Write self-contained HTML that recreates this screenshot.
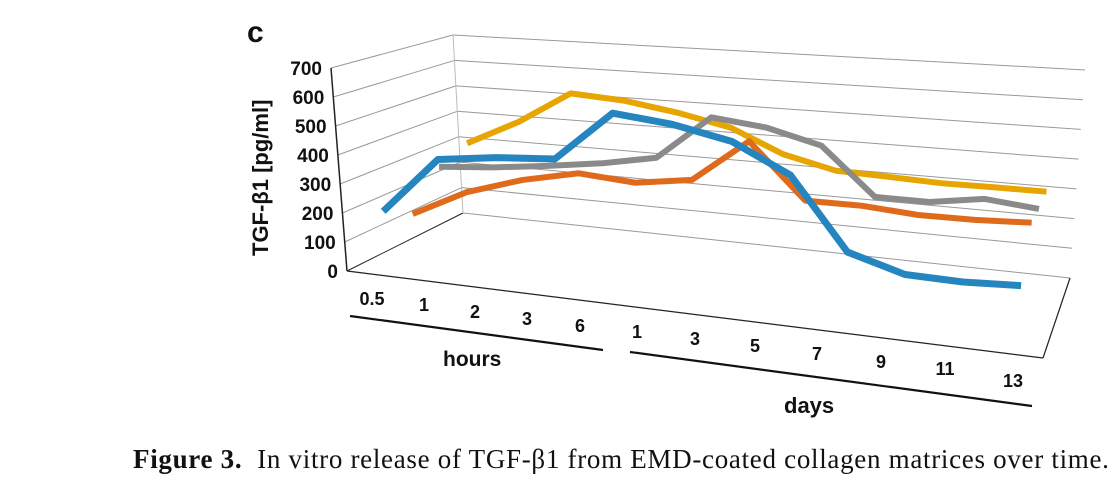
<!DOCTYPE html>
<html><head><meta charset="utf-8"><style>
body{margin:0;background:#fff;width:1120px;height:483px;overflow:hidden}
svg{position:absolute;left:0;top:0}
text{font-family:"Liberation Sans",sans-serif;font-weight:bold;fill:#111}
.cap{position:absolute;left:133px;top:444px;font-family:"Liberation Serif",serif;font-size:27px;letter-spacing:0.7px;color:#111;white-space:nowrap}
</style></head><body>
<svg id="chart" width="1120" height="483">
<text x="247" y="42" font-size="30">c</text>
<text transform="translate(268,256) rotate(-90)" font-size="22">TGF-β1 [pg/ml]</text>
<g id="grid"></g><g id="series"></g><g id="labels"></g>
<line x1="350" y1="316" x2="603" y2="350" stroke="#111" stroke-width="2.2"/>
<line x1="630" y1="352" x2="1032" y2="406" stroke="#111" stroke-width="2.2"/>
<text x="443" y="366" font-size="21">hours</text>
<text x="784" y="413" font-size="22">days</text>
</svg>
<div class="cap"><b>Figure 3.</b>&nbsp; In vitro release of TGF-β1 from EMD-coated collagen matrices over time.</div>
<script>
const categories=["0.5","1","2","3","6","1","3","5","7","9","11","13"];
const yTicks=[0,100,200,300,400,500,600,700];
const blueVals=[200,404,434,452,633,617,581,488,249,196,194,205];
const orangeVals=[144,245,310,355,343,374,529,344,347,336,340,351];
const grayVals=[269,287,312,341,380,542,523,477,317,318,347,331];
const yellowVals=[311,410,533,521,492,453,373,331,326,320,322,323];
const labelPos=[[372,298],[424,304],[475,311],[527,318],[580,325],[637,331],[695,338],[755,345],[817,353],[881,361],[945,368],[1013,380]];
const NS="http://www.w3.org/2000/svg";
const F0=[347,271],F1=[1043,358],T0=[331,68],T1=[1058,150];
const B0=[463,213],B1=[1070,278],U0=[453,35],U1=[1085,70];
const L=(a,b,t)=>[a[0]+(b[0]-a[0])*t,a[1]+(b[1]-a[1])*t];
function P(i,v,d){const t=(i+0.5)/categories.length;const s=v/700;
 const f=L(L(F0,F1,t),L(T0,T1,t),s),b=L(L(B0,B1,t),L(U0,U1,t),s);return L(f,b,d);}
function line(g,x1,y1,x2,y2,c,w,name){const l=document.createElementNS(NS,'line');
 l.setAttribute('x1',x1);l.setAttribute('y1',y1);l.setAttribute('x2',x2);l.setAttribute('y2',y2);
 l.setAttribute('stroke',c);l.setAttribute('stroke-width',w);
 
 
 g.appendChild(l);}
const grid=document.getElementById('grid'),lab=document.getElementById('labels');
yTicks.forEach(v=>{const s=v/700;const f=L(F0,T0,s),b=L(B0,U0,s),r=L(B1,U1,s);
 line(grid,f[0],f[1],b[0],b[1],v===0?'#222':'#999',1,'gridline-left');
 line(grid,b[0],b[1],r[0],r[1],'#999',1,'gridline-back');
 const t=document.createElementNS(NS,'text');t.setAttribute('x',f[0]-9);t.setAttribute('y',f[1]+7);
 t.setAttribute('text-anchor','end');t.setAttribute('font-size','19');t.textContent=v;
 
 
 lab.appendChild(t);});
line(grid,T0[0],T0[1],F0[0],F0[1],'#222',1.5,'y-axis-line');
line(grid,F0[0],F0[1],F1[0],F1[1],'#222',1.2,'floor-front-edge');
line(grid,F1[0],F1[1],B1[0],B1[1],'#222',1.2,'floor-right-edge');
line(grid,B0[0],B0[1],U0[0],U0[1],'#bbb',1,'back-left-edge');
categories.forEach((c,i)=>{const t=document.createElementNS(NS,'text');
 t.setAttribute('x',labelPos[i][0]);t.setAttribute('y',labelPos[i][1]+7);t.setAttribute('text-anchor','middle');
 t.setAttribute('font-size','18');t.textContent=c;
 
 
 lab.appendChild(t);});
const sg=document.getElementById('series');
function series(vals,d,col,w,name){const p=document.createElementNS(NS,'polyline');
 p.setAttribute('points',vals.map((v,i)=>P(i,v,d).join(',')).join(' '));
 p.setAttribute('fill','none');p.setAttribute('stroke',col);p.setAttribute('stroke-width',w);
 p.setAttribute('stroke-linejoin','round');
 
 
 sg.appendChild(p);}
series(yellowVals,0.85,'#e6a500',6,'series-yellow');
series(grayVals,0.6,'#8a8a8a',6,'series-gray');
series(orangeVals,0.35,'#e06a1c',6,'series-orange');
series(blueVals,0.1,'#2586bf',7,'series-blue');
</script>
</body></html>
